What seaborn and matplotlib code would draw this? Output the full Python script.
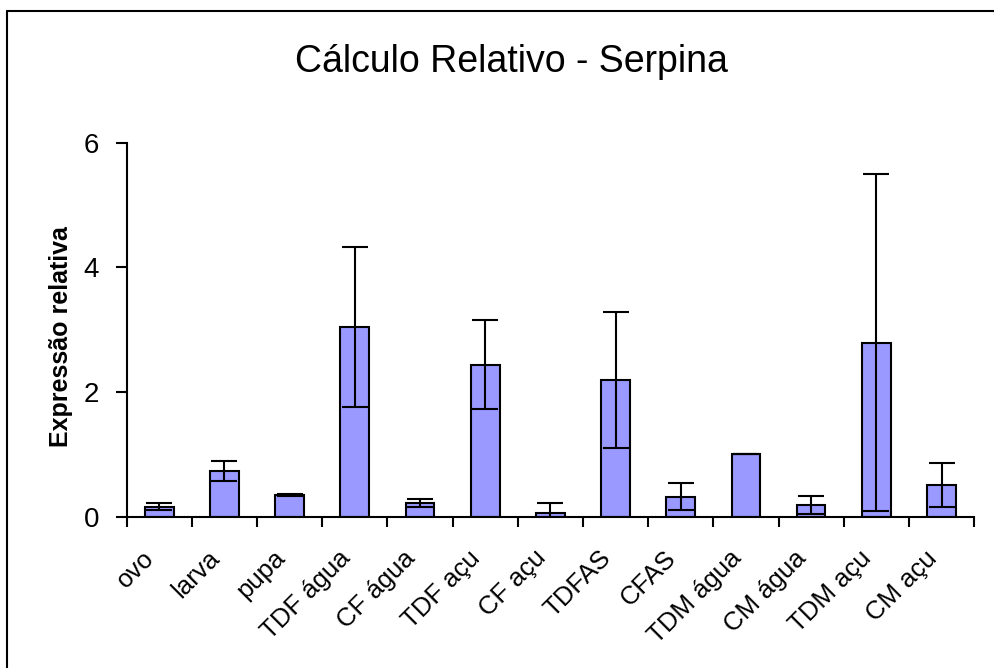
import matplotlib
matplotlib.use("Agg")
import matplotlib.pyplot as plt
from matplotlib.lines import Line2D
import matplotlib.transforms as mtransforms
import seaborn as sns
import numpy as np

categories = ["ovo", "larva", "pupa", "TDF água", "CF água", "TDF açu", "CF açu",
              "TDFAS", "CFAS", "TDM água", "CM água", "TDM açu", "CM açu"]
values = [0.16, 0.74, 0.35, 3.04, 0.22, 2.44, 0.065, 2.19, 0.32, 1.00, 0.19, 2.79, 0.51]
errors = [0.06, 0.16, 0.01, 1.28, 0.065, 0.72, 0.16, 1.09, 0.22, 0.0, 0.14, 2.70, 0.355]
yticks = [0, 2, 4, 6]

sns.set_theme(style="white")
plt.rcParams["font.family"] = ["Liberation Sans", "DejaVu Sans"]
plt.rcParams["text.color"] = "black"
plt.rcParams["axes.labelcolor"] = "black"
plt.rcParams["xtick.color"] = "black"
plt.rcParams["ytick.color"] = "black"

fig = plt.figure(figsize=(9.95, 6.68), dpi=100)
ax = fig.add_axes([0.1273, 0.2265, 0.979 - 0.1273, 0.7864 - 0.2265])

sns.barplot(x=categories, y=values, color="#9999FF", saturation=1, width=0.44,
            edgecolor="black", linewidth=1.5, ax=ax)
xpos = ax.get_xticks()
ax.errorbar(xpos, values, yerr=errors, fmt="none", ecolor="black",
            elinewidth=1.5, capsize=9.5, capthick=1.5)

ax.set_xlim(-0.5, len(categories) - 0.5)
ax.set_ylim(0, 6)
ax.set_yticks(yticks)
ax.set_yticklabels([str(t) for t in yticks], fontsize=20)

# x ticks: labels at centres, tick marks at category boundaries
ax.set_xticks(xpos)
ax.set_xticklabels(categories, fontsize=18.5, rotation=45, ha="right",
                   rotation_mode="anchor")
ax.tick_params(axis="x", which="major", length=0, pad=21)
offset = mtransforms.ScaledTranslation(-17 / 100, 0, fig.dpi_scale_trans)
for lbl in ax.get_xticklabels():
    lbl.set_transform(lbl.get_transform() + offset)
ax.set_xticks(np.arange(-0.5, len(categories), 1.0), minor=True)
ax.tick_params(axis="x", which="minor", length=7, width=1.5, color="black",
               direction="out", bottom=True)
ax.tick_params(axis="y", length=8, width=1.5, color="black", direction="out",
               pad=12, left=True)

for s in ["top", "right"]:
    ax.spines[s].set_visible(False)
for s in ["left", "bottom"]:
    ax.spines[s].set_color("black")
    ax.spines[s].set_linewidth(1.5)

ax.set_xlabel("")
ax.set_ylabel("Expressão relativa", fontsize=18, fontweight="bold")
ax.yaxis.set_label_coords((73 - 126.7) / (974 - 126.7), (517 - 337) / (517 - 143))

fig.text(511 / 995, 1 - 72 / 668, "Cálculo Relativo - Serpina", fontsize=27,
         ha="center", va="baseline")

fig.add_artist(Line2D([7 / 995, 7 / 995], [0, 1 - 11 / 668], color="black",
                      lw=1.5, transform=fig.transFigure))
fig.add_artist(Line2D([7 / 995, 1], [1 - 11 / 668, 1 - 11 / 668], color="black",
                      lw=1.5, transform=fig.transFigure))

fig.savefig("out.png", dpi=100)
